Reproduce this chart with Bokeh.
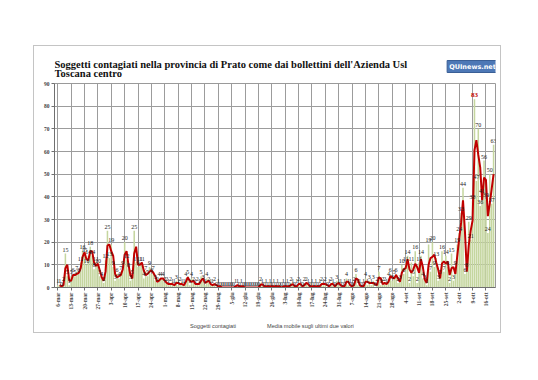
from bokeh.plotting import figure
from bokeh.layouts import column
from bokeh.models import (ColumnDataSource, Range1d, FixedTicker, Legend, LegendItem, Label)
from bokeh.core.properties import value
from bokeh.embed import file_html
from bokeh.resources import INLINE

# Daily new cases, 6 March - 20 October 2020
mar = [1, 1, 0, 2, 15, 5, 1, 5, 6, 5, 7, 6, 11, 16, 15, 10, 14, 18, 14, 8, 11, 10, 5, 4, 2, 12]
apr = [25, 13, 19, 9, 3, 6, 4, 7, 9, 20, 12, 8, 3, 5, 25, 11, 9, 11, 11, 4, 7, 5, 9, 6, 7, 3, 2, 4, 4, 4]
may = [2, 2, 1, 2, 1, 1, 3, 1, 2, 1, 1, 4, 5, 1, 4, 2, 1, 2, 1, 5, 3, 1, 4, 2, 1, 1, 2, 0, 1, 0, 0]
jun = [0, 0, 0, 0, 0, 0, 1, 1, 0, 1, 0, 0, 0, 0, 0, 0, 0, 0, 0, 2, 1, 0, 1, 0, 1, 0, 1, 0, 1, 0]
jul = [0, 1, 0, 1, 0, 2, 1, 0, 1, 2, 1, 0, 2, 2, 1, 0, 1, 0, 1, 0, 1, 2, 1, 2, 0, 1, 2, 1, 0, 3, 1]
aug = [1, 0, 1, 4, 1, 1, 0, 2, 6, 1, 1, 0, 1, 4, 1, 3, 1, 3, 0, 2, 7, 1, 2, 2, 1, 4, 6, 3, 5, 6, 2]
sep = [3, 10, 6, 11, 14, 2, 11, 5, 16, 2, 11, 14, 4, 3, 1, 19, 7, 20, 9, 13, 3, 5, 16, 7, 14, 9, 2, 15, 3, 9]
ott = [19, 24, 33, 44, 6, 8, 29, 21, 38, 83, 47, 70, 36, 41, 56, 39, 24, 50, 37, 63]

week_labels = ["6-mar", "13-mar", "20-mar", "27-mar", "3-apr", "10-apr", "17-apr", "24-apr",
               "1-mag", "8-mag", "15-mag", "22-mag", "29-mag", "5-giu", "12-giu", "19-giu",
               "26-giu", "3-lug", "10-lug", "17-lug", "24-lug", "31-lug", "7-ago", "14-ago",
               "21-ago", "28-ago", "4-set", "11-set", "18-set", "25-set", "2-ott", "9-ott", "16-ott"]

title_line1 = "Soggetti contagiati  nella provincia di Prato come dai bollettini dell'Azienda Usl"
title_line2 = "Toscana centro"
logo_text = "QUInews.net"
bar_name = "Soggetti contagiati"
line_name = "Media mobile sugli ultimi due valori"

counts = mar + apr + may + jun + jul + aug + sep + ott
days = list(range(len(counts)))
ma_x = days[1:]
ma_y = [(counts[i - 1] + counts[i]) / 2 for i in range(1, len(counts))]
week_pos = [7 * i for i in range(len(week_labels))]

peak = max(counts)
lab_x = [d for d, c in zip(days, counts) if c != peak]
lab_y = [c for c in counts if c != peak]
lab_t = [str(c) for c in lab_y]
pk_x = [d for d, c in zip(days, counts) if c == peak]
pk_y = [peak for _ in pk_x]

serif = "Liberation Serif"
BAR_COLOR = "#c5d69f"
LINE_COLOR = "#c00000"
W = 466
FRAME_W = 441   # width of the plotting frame (shared by the stacked figures)

# ---------- header (title + logo), frame aligned with the chart frame ----------
head = figure(width=W, height=33, x_range=Range1d(0, FRAME_W), y_range=Range1d(0, 33),
              output_backend="svg", toolbar_location=None,
              x_axis_location=None, y_axis_location=None,
              min_border_left=20, min_border_right=5, min_border_top=0, min_border_bottom=0,
              outline_line_color=None,
              background_fill_color="white", border_fill_color="white")
head.grid.visible = False
head.add_layout(Label(x=0, y=9.5, text=title_line1, text_font=serif, text_font_size="10.5px",
                      text_font_style="bold", text_color="#111111"))
head.add_layout(Label(x=0, y=0.6, text=title_line2, text_font=serif, text_font_size="10.5px",
                      text_font_style="bold", text_color="#111111"))
head.add_layout(Label(x=418, y=7, text=logo_text, text_font="DejaVu Sans",
                      text_font_size="6.5px", text_font_style="bold", text_color="white",
                      text_align="center",
                      background_fill_color="#4d78b6", border_line_color="#3a5f96",
                      padding=2))

# ---------- main chart ----------
p = figure(width=W, height=236,
           x_range=Range1d(-1.7, 229.0), y_range=Range1d(0, 90),
           output_backend="svg", toolbar_location=None,
           min_border_left=20, min_border_right=5, min_border_top=4, min_border_bottom=28,
           background_fill_color="white", border_fill_color="white",
           outline_line_color="#9a9a9a")

bars = p.vbar(x=days, top=counts, width=0.8, fill_color=BAR_COLOR, line_color=None)
line = p.line(x=ma_x, y=ma_y, line_color=LINE_COLOR, line_width=2)

lsrc = ColumnDataSource(dict(x=lab_x, y=lab_y, t=lab_t))
p.text(x="x", y="y", text="t", source=lsrc, text_font=value(serif), text_font_size="6px",
       text_align="center", text_baseline="bottom", y_offset=-2, text_color="#222222")
p.text(x=pk_x, y=pk_y, text=[str(peak)], text_font=value(serif), text_font_size="7px",
       text_font_style="bold", text_align="center", text_baseline="bottom", y_offset=-2,
       text_color=LINE_COLOR)

p.xaxis.ticker = FixedTicker(ticks=week_pos)
p.xaxis.major_label_overrides = {pos: lab for pos, lab in zip(week_pos, week_labels)}
p.xaxis.major_label_orientation = 1.5708
p.xaxis.major_label_text_font = serif
p.xaxis.major_label_text_font_size = "5.5px"
p.xaxis.major_label_text_font_style = "bold"
p.xaxis.major_label_standoff = 2
p.xaxis.major_tick_out = 3
p.xaxis.major_tick_in = 0
p.xaxis.minor_tick_line_color = None
p.xaxis.axis_line_color = "#707070"
p.xaxis.major_tick_line_color = "#707070"

p.yaxis.ticker = FixedTicker(ticks=list(range(0, 91, 10)))
p.yaxis.major_label_text_font = serif
p.yaxis.major_label_text_font_size = "5.5px"
p.yaxis.major_label_text_font_style = "bold"
p.yaxis.major_label_standoff = 2
p.yaxis.major_tick_out = 3
p.yaxis.major_tick_in = 0
p.yaxis.minor_tick_line_color = None
p.yaxis.axis_line_color = "#707070"
p.yaxis.major_tick_line_color = "#707070"

p.xgrid.grid_line_color = "#9c9c9c"
p.ygrid.grid_line_color = "#9c9c9c"

# ---------- footer (legend) ----------
foot = figure(width=W, height=17, x_range=Range1d(0, 1), y_range=Range1d(0, 1),
              output_backend="svg", toolbar_location=None,
              x_axis_location=None, y_axis_location=None,
              min_border_left=20, min_border_right=5, min_border_top=0, min_border_bottom=0,
              outline_line_color=None,
              background_fill_color="white", border_fill_color="white")
foot.grid.visible = False
lb = foot.vbar(x=[], top=[], width=0.8, fill_color=BAR_COLOR, line_color=None)
ll = foot.line(x=[], y=[], line_color=LINE_COLOR, line_width=2)
legend = Legend(items=[LegendItem(label=bar_name, renderers=[lb]),
                       LegendItem(label=line_name, renderers=[ll])],
                orientation="horizontal", location=(121, 2),
                label_text_font="Liberation Sans", label_text_font_size="5.6px",
                label_height=8, glyph_height=7, glyph_width=12, label_standoff=3,
                spacing=16, padding=2, margin=0, border_line_color=None,
                background_fill_alpha=0)
foot.add_layout(legend)

layout = column(head, p, foot, spacing=0, margin=(45, 0, 0, 33),
                styles={"border": "1px solid #c4c4c4"})

open("out.html", "w").write(file_html(layout, INLINE))
